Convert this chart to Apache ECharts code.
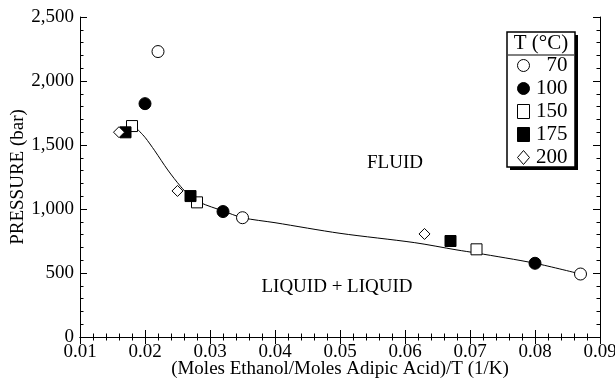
<!DOCTYPE html>
<html><head><meta charset="utf-8">
<script src="https://cdn.jsdelivr.net/npm/echarts@6/dist/echarts.min.js"></script>
<style>html,body{margin:0;padding:0;background:#fff}#c{width:615px;height:379px}</style>
</head><body><div id="c"></div>
<script>
// Temperature groups (°C)
const tempNames = ['70', '100', '150', '175', '200'];
// x = (Moles Ethanol/Moles Adipic Acid)/T (1/K), y = pressure (bar)
const x70 = [0.022, 0.035, 0.087];
const p70 = [2230, 932, 492];
const x100 = [0.020, 0.032, 0.080];
const p100 = [1823, 980, 576];
const x150 = [0.018, 0.028, 0.071];
const p150 = [1648, 1052, 685];
const x175 = [0.017, 0.027, 0.067];
const p175 = [1599, 1101, 750];
const x200 = [0.016, 0.025, 0.063];
const p200 = [1600, 1141, 805];
// phase boundary curve
const curveX = [0.0187, 0.0200, 0.0215, 0.0235, 0.0255, 0.0268, 0.0285, 0.032, 0.035, 0.040, 0.050, 0.0615, 0.068, 0.071, 0.080, 0.087];
const curveP = [1630, 1560, 1455, 1305, 1175, 1108, 1050, 985, 932, 893, 810, 737, 680, 656, 576, 492];
// tick labels
const xTickLabels = ['0.01','0.02','0.03','0.04','0.05','0.06','0.07','0.08','0.09'];
const yTickLabels = ['0','500','1,000','1,500','2,000','2,500'];

const zip = (xs, ys) => xs.map((x, i) => [x, ys[i]]);
const FONT = 'Liberation Serif';
const open = {color: '#fff', borderColor: '#000', borderWidth: 1, opacity: 1};
const fill = {color: '#000', borderColor: '#000', borderWidth: 1, opacity: 1};

const axisCommon = {
  axisLine: {show: true, lineStyle: {color: '#000', width: 1}},
  axisTick: {show: true, inside: true, length: 7, lineStyle: {color: '#000'}},
  minorTick: {show: true, splitNumber: 5, length: 3.5, lineStyle: {color: '#000'}},
  splitLine: {show: false}
};

const chart = echarts.init(document.getElementById('c'), null, {renderer: 'canvas'});
chart.setOption({
  animation: false,
  backgroundColor: '#fff',
  textStyle: {fontFamily: FONT},
  grid: {left: 80, right: 15, top: 17, bottom: 42, containLabel: false, outerBoundsMode: 'none'},
  xAxis: [
    Object.assign({}, axisCommon, {
      type: 'value', min: 0.01, max: 0.09, interval: 0.01, position: 'bottom',
      name: '(Moles Ethanol/Moles Adipic Acid)/T (1/K)', nameLocation: 'middle', nameGap: 23,
      nameMoveOverlap: false,
      nameTextStyle: {fontFamily: FONT, fontSize: 19, color: '#000'},
      axisLabel: {fontFamily: FONT, fontSize: 19, color: '#000', margin: 6,
        formatter: (v) => xTickLabels[Math.round((v - 0.01) / 0.01)]}
    }),
    Object.assign({}, axisCommon, {
      type: 'value', min: 0.01, max: 0.09, interval: 0.01, position: 'top',
      axisLabel: {show: false}
    })
  ],
  yAxis: [
    Object.assign({}, axisCommon, {
      type: 'value', min: 0, max: 2500, interval: 500, position: 'left',
      name: 'PRESSURE (bar)', nameLocation: 'middle', nameGap: 52, nameRotate: 90,
      nameMoveOverlap: false,
      nameTextStyle: {fontFamily: FONT, fontSize: 19, color: '#000'},
      axisLabel: {fontFamily: FONT, fontSize: 19, color: '#000', margin: 6,
        formatter: (v) => yTickLabels[Math.round(v / 500)]}
    }),
    Object.assign({}, axisCommon, {
      type: 'value', min: 0, max: 2500, interval: 500, position: 'right',
      axisLabel: {show: false}
    })
  ],
  legend: {
    data: tempNames,
    orient: 'vertical',
    left: 507, top: 32,
    padding: [23, 8, 5, 10],
    itemGap: 2, itemWidth: 12, itemHeight: 14,
    itemStyle: {borderWidth: 1, opacity: 1},
    textStyle: {fontFamily: FONT, fontSize: 21, color: '#000', lineHeight: 20,
      rich: {a: {fontFamily: FONT, fontSize: 21, lineHeight: 20, width: 33, align: 'right', color: '#000'}}},
    formatter: '{a|{name}}'
  },
  graphic: [
    {type: 'rect', shape: {x: 510, y: 35, width: 68, height: 135}, style: {fill: '#000'}, z: 0},
    {type: 'rect', shape: {x: 507, y: 32, width: 68, height: 135}, style: {fill: '#fff', stroke: '#000', lineWidth: 1.5}, z: 1},
    {type: 'text', x: 541, y: 43, z: 2, style: {text: 'T (°C)', font: '21px ' + FONT, fill: '#000', align: 'center', verticalAlign: 'middle'}},
    {type: 'line', z: 2, shape: {x1: 508, y1: 55, x2: 574, y2: 55}, style: {stroke: '#000', lineWidth: 1}},
    {type: 'text', x: 395, y: 163, z: 2, style: {text: 'FLUID', font: '19px ' + FONT, fill: '#000', align: 'center', verticalAlign: 'middle'}},
    {type: 'text', x: 337, y: 287, z: 2, style: {text: 'LIQUID + LIQUID', font: '19px ' + FONT, fill: '#000', align: 'center', verticalAlign: 'middle'}}
  ],
  series: [
    {type: 'line', data: zip(curveX, curveP), smooth: 0.3, showSymbol: false, symbol: 'none',
      lineStyle: {color: '#000', width: 1}, z: 1, silent: true},
    {name: '70', type: 'scatter', data: zip(x70, p70), symbol: 'circle', symbolSize: 12, itemStyle: open, z: 3},
    {name: '100', type: 'scatter', data: zip(x100, p100), symbol: 'circle', symbolSize: 12, itemStyle: fill, z: 3},
    {name: '150', type: 'scatter', data: zip(x150, p150), symbol: 'rect', symbolSize: 11, itemStyle: open, z: 3},
    {name: '175', type: 'scatter', data: zip(x175, p175), symbol: 'rect', symbolSize: 11, itemStyle: fill, z: 3},
    {name: '200', type: 'scatter', data: zip(x200, p200), symbol: 'diamond', symbolSize: [11, 11], itemStyle: open, z: 3}
  ]
});
</script></body></html>
